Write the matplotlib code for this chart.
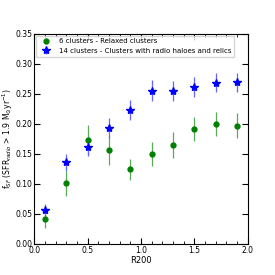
import matplotlib
matplotlib.use("Agg")
import matplotlib.pyplot as plt
from matplotlib.ticker import MultipleLocator

# radial bins (R200)
r200 = [0.1, 0.3, 0.5, 0.7, 0.9, 1.1, 1.3, 1.5, 1.7, 1.9]

# relaxed clusters
f_relaxed = [0.041, 0.101, 0.173, 0.156, 0.124, 0.150, 0.165, 0.191, 0.200, 0.197]
err_relaxed = [0.014, 0.021, 0.025, 0.024, 0.017, 0.020, 0.022, 0.020, 0.020, 0.020]

# clusters with radio haloes and relics
f_radio = [0.057, 0.136, 0.161, 0.193, 0.223, 0.255, 0.254, 0.261, 0.268, 0.269]
err_radio = [0.010, 0.014, 0.015, 0.017, 0.017, 0.018, 0.017, 0.017, 0.016, 0.016]

plt.rcParams["font.size"] = 5.5
fig, ax = plt.subplots(figsize=(2.75, 2.75), dpi=100)
fig.subplots_adjust(left=0.125, right=0.9, top=0.878, bottom=0.113)

ax.errorbar(r200, f_relaxed, yerr=err_relaxed, fmt="o", color="green", ecolor=(0.35, 0.68, 0.35),
            ms=3.5, elinewidth=0.9, label="6 clusters - Relaxed clusters")
ax.errorbar(r200, f_radio, yerr=err_radio, fmt="*", color="blue", ecolor=(0.4, 0.4, 1.0),
            ms=6, elinewidth=0.9, label="14 clusters - Clusters with radio haloes and relics")

ax.set_xlim(0, 2.0)
ax.set_ylim(0, 0.35)
ax.xaxis.set_major_locator(MultipleLocator(0.5))
ax.xaxis.set_minor_locator(MultipleLocator(0.1))
ax.yaxis.set_major_locator(MultipleLocator(0.05))
ax.tick_params(which="both", direction="in", top=True, right=True, labelsize=5.5, pad=1.5)
ax.tick_params(which="major", length=4)
ax.tick_params(which="minor", length=2)
ax.set_xlabel("R200", fontsize=6, labelpad=1)
ax.set_ylabel(r"f$_{SF}$ (SFR$_{radio}$ > 1.9 M$_{\odot}$yr$^{-1}$)", fontsize=5.5, labelpad=0.5)

ax.legend(loc="upper left", fontsize=5, numpoints=1, fancybox=False, borderaxespad=0.3,
          handletextpad=0.8, edgecolor="0.8")

plt.savefig("out.png", dpi=100)
